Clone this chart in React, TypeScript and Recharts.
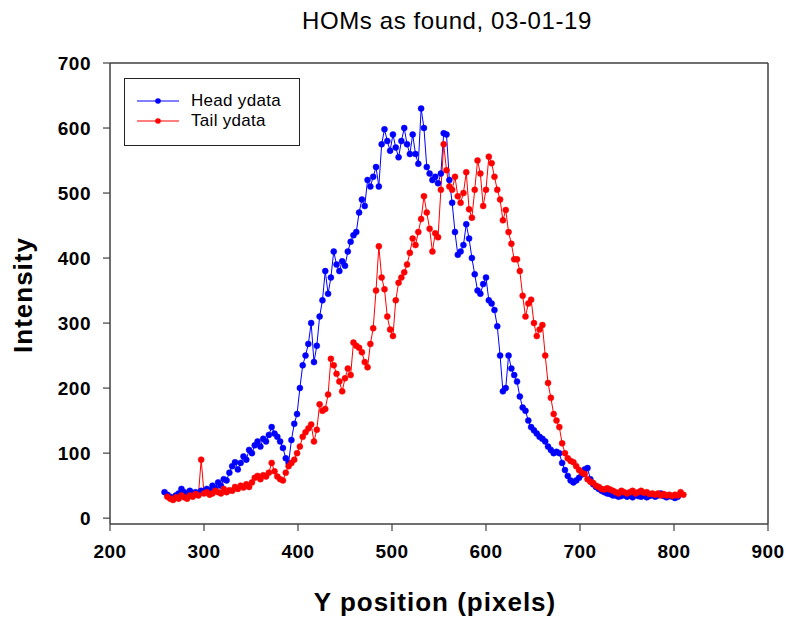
import { LineChart, Line, XAxis, YAxis, ReferenceLine, Legend } from "recharts";

// y position (pixels) of each sample
const positions = [
  258, 261, 264, 267, 270, 273, 276, 279, 282, 285,
  288, 291, 294, 297, 300, 303, 306, 309, 312, 315,
  318, 321, 324, 327, 330, 333, 336, 339, 342, 345,
  348, 351, 354, 357, 360, 363, 366, 369, 372, 375,
  378, 381, 384, 387, 390, 393, 396, 399, 402, 405,
  408, 411, 414, 417, 420, 423, 426, 429, 432, 435,
  438, 441, 444, 447, 450, 453, 456, 459, 462, 465,
  468, 471, 474, 477, 480, 483, 486, 489, 492, 495,
  498, 501, 504, 507, 510, 513, 516, 519, 522, 525,
  528, 531, 534, 537, 540, 543, 546, 549, 552, 555,
  558, 561, 564, 567, 570, 573, 576, 579, 582, 585,
  588, 591, 594, 597, 600, 603, 606, 609, 612, 615,
  618, 621, 624, 627, 630, 633, 636, 639, 642, 645,
  648, 651, 654, 657, 660, 663, 666, 669, 672, 675,
  678, 681, 684, 687, 690, 693, 696, 699, 702, 705,
  708, 711, 714, 717, 720, 723, 726, 729, 732, 735,
  738, 741, 744, 747, 750, 753, 756, 759, 762, 765,
  768, 771, 774, 777, 780, 783, 786, 789, 792, 795,
  798, 801, 804, 807, 810,
];

const headYdata = [
  40, 36, 33, 30, 35, 38, 45, 40, 35, 42,
  38, 40, 36, 42, 40, 45, 42, 50, 46, 55,
  50, 60, 58, 70, 80, 86, 75, 85, 95, 90,
  105, 100, 112, 118, 110, 122, 118, 128, 140, 130,
  125, 118, 108, 92, 85, 120, 145, 160, 200, 235,
  250, 268, 300, 240, 265, 310, 335, 380, 345, 370,
  410, 390, 380, 395, 388, 410, 425, 435, 440, 470,
  490, 480, 520, 510, 525, 540, 510, 575, 598, 580,
  565, 590, 570, 555, 580, 600, 575, 560, 590, 560,
  545, 630, 600, 540, 530, 520, 525, 515, 530, 592,
  590, 520, 485, 440, 405, 410, 420, 452, 430, 400,
  375, 350, 345, 360, 370, 335, 330, 320, 295, 250,
  195, 200, 250, 230, 220, 210, 187, 170, 165, 150,
  140, 135, 130, 125, 122, 118, 110, 105, 100, 102,
  100, 85, 74, 65, 58, 55, 58, 62, 67, 75,
  77, 60, 52, 48, 45, 42, 40, 38, 37, 35,
  35, 33, 34, 36, 33, 35, 32, 36, 34, 33,
  35, 32, 34, 36, 33, 35, 38, 34, 32, 34,
  33, 31, 33, null, null,
];

const tailYdata = [
  null, 33, 30, 28, 32, 30, 35, 32, 30, 35,
  33, 37, 35, 90, 38, 40, 36, 38, 42, 40,
  38, 45, 40, 43, 42, 48, 45, 50, 47, 52,
  48, 55, 62, 65, 60, 66, 64, 70, 85, 72,
  64, 60, 58, 70, 80, 85, 90, 100, 110, 125,
  132, 138, 144, 118, 136, 175, 165, 168, 190, 245,
  235, 222, 210, 195, 215, 230, 220, 270, 265, 262,
  255, 240, 232, 268, 292, 350, 418, 370, 352, 310,
  290, 280, 335, 362, 370, 378, 390, 408, 430, 420,
  440, 460, 495, 470, 445, 410, 438, 432, 505, 575,
  535, 510, 505, 525, 495, 485, 500, 532, 475, 462,
  505, 550, 530, 480, 505, 556, 546, 525, 505, 490,
  458, 474, 440, 422, 398, 398, 380, 342, 310, 330,
  336, 300, 280, 290, 297, 250, 208, 185, 160, 150,
  140, 115, 100, 92, 88, 86, 80, 74, 70, 68,
  60, 56, 54, 50, 48, 45, 44, 46, 44, 42,
  40, 38, 42, 40, 38, 40, 42, 38, 40, 42,
  39, 40, 37, 38, 36, 38, 35, 37, 35, 36,
  34, 36, 35, 40, 36,
];

const xTicks = [200, 300, 400, 500, 600, 700, 800, 900];
const yTicks = [0, 100, 200, 300, 400, 500, 600, 700];

const data = positions.map((x, i) => ({
  x,
  head: headYdata[i],
  tail: tailYdata[i],
}));

const FONT = "'Liberation Sans', Arial, sans-serif";
const AXIS = "#404040";

function LegendBox({ payload }: any) {
  return (
    <div
      style={{
        width: 176,
        height: 68,
        boxSizing: "border-box",
        border: "1.5px solid #222",
        background: "#fff",
        paddingTop: 12,
        fontFamily: FONT,
        fontSize: 17,
        letterSpacing: 0.3,
      }}
    >
      {(payload || []).map((p: any) => (
        <div
          key={p.value}
          style={{ display: "flex", alignItems: "center", height: 20 }}
        >
          <svg width={54} height={20} style={{ marginLeft: 12 }}>
            <line x1={0} y1={10} x2={42} y2={10} stroke={p.color} strokeWidth={1.2} />
            <circle cx={21} cy={10} r={2.8} fill={p.color} />
          </svg>
          <span style={{ color: "#000" }}>{p.value}</span>
        </div>
      ))}
    </div>
  );
}

export default function App() {
  return (
    <div
      style={{
        position: "absolute",
        left: 0,
        top: 0,
        width: 786,
        height: 617,
        background: "#fff",
        fontFamily: FONT,
      }}
    >
      <LineChart
        width={786}
        height={617}
        data={data}
        margin={{ top: 63, right: 18, bottom: 53, left: 50 }}
      >
        <XAxis
          dataKey="x"
          type="number"
          domain={[200, 900]}
          ticks={xTicks}
          height={40}
          tickSize={7}
          tickMargin={14}
          axisLine={{ stroke: AXIS, strokeWidth: 1.5 }}
          tickLine={{ stroke: AXIS, strokeWidth: 1.2 }}
          tick={{ fill: "#000", fontSize: 19, fontWeight: "bold", fontFamily: FONT, letterSpacing: 0.5 }}
        />
        <YAxis
          type="number"
          domain={[-9, 700]}
          ticks={yTicks}
          allowDataOverflow
          width={60}
          tickSize={7}
          tickMargin={12}
          axisLine={{ stroke: AXIS, strokeWidth: 1.5 }}
          tickLine={{ stroke: AXIS, strokeWidth: 1.2 }}
          tick={{ fill: "#000", fontSize: 19, fontWeight: "bold", fontFamily: FONT, letterSpacing: 0.5 }}
        />
        <ReferenceLine y={700} stroke={AXIS} strokeWidth={1.5} />
        <ReferenceLine x={900} stroke={AXIS} strokeWidth={1.5} />
        <Legend
          layout="horizontal"
          verticalAlign="middle"
          align="center"
          content={LegendBox}
          wrapperStyle={{ left: 124, top: 78, width: 176, height: 68 }}
        />
        <Line
          dataKey="head"
          name="Head ydata"
          stroke="#0000ff"
          strokeWidth={1}
          dot={{ r: 3, fill: "#0000ff", stroke: "#0000ff", strokeWidth: 0.5 }}
          activeDot={false}
          isAnimationActive={false}
        />
        <Line
          dataKey="tail"
          name="Tail ydata"
          stroke="#ff0000"
          strokeWidth={1}
          dot={{ r: 3, fill: "#ff0000", stroke: "#ff0000", strokeWidth: 0.5 }}
          activeDot={false}
          isAnimationActive={false}
        />
      </LineChart>

      <div
        style={{
          position: "absolute",
          left: 447,
          top: 21,
          transform: "translate(-50%, -50%)",
          whiteSpace: "nowrap",
          fontSize: 24,
          lineHeight: 1,
          letterSpacing: 0.6,
          color: "#000",
        }}
      >
        HOMs as found, 03-01-19
      </div>
      <div
        style={{
          position: "absolute",
          left: 435,
          top: 602,
          transform: "translate(-50%, -50%)",
          whiteSpace: "nowrap",
          fontSize: 26,
          fontWeight: "bold",
          lineHeight: 1,
          letterSpacing: 1,
          color: "#000",
        }}
      >
        Y position (pixels)
      </div>
      <div
        style={{
          position: "absolute",
          left: 23,
          top: 295,
          transform: "translate(-50%, -50%) rotate(-90deg)",
          whiteSpace: "nowrap",
          fontSize: 26,
          fontWeight: "bold",
          lineHeight: 1,
          letterSpacing: 1,
          color: "#000",
        }}
      >
        Intensity
      </div>
    </div>
  );
}
